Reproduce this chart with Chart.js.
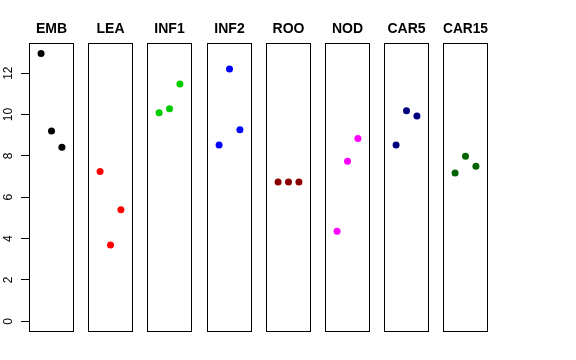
<!DOCTYPE html>
<html>
<head>
<meta charset="utf-8">
<script src="https://cdn.jsdelivr.net/npm/chart.js@4"></script>
<style>
  html, body { margin: 0; padding: 0; background: #fff; }
  #wrap { position: relative; width: 576px; height: 360px; }
  #wrap canvas { position: absolute; top: 0; }
</style>
</head>
<body>
<div id="wrap"></div>
<script>
/* data */
const panels = ['EMB', 'LEA', 'INF1', 'INF2', 'ROO', 'NOD', 'CAR5', 'CAR15'];
const xPos = [1, 2, 3];
const emb   = [12.95, 9.20, 8.42];
const lea   = [7.24, 3.69, 5.39];
const inf1  = [10.09, 10.28, 11.48];
const inf2  = [8.53, 12.20, 9.27];
const roo   = [6.74, 6.74, 6.74];
const nod   = [4.35, 7.74, 8.84];
const car5  = [8.53, 10.18, 9.93];
const car15 = [7.17, 7.98, 7.50];
const series = [emb, lea, inf1, inf2, roo, nod, car5, car15];
const yTicks = [0, 2, 4, 6, 8, 10, 12];

const colors = ['#000000', '#ff0000', '#00cd00', '#0000ff', '#8b0000', '#ff00ff', '#000080', '#006400'];

Chart.defaults.font.family = '"Liberation Sans", Arial, Helvetica, sans-serif';
Chart.defaults.color = '#000';

/* draws the frame round each panel */
const boxPlugin = {
    id: 'box',
    afterDraw(chart) {
        const { ctx, chartArea: a } = chart;
        ctx.save();
        ctx.strokeStyle = '#000';
        ctx.lineWidth = 1;
        ctx.strokeRect(Math.round(a.left) + 0.5, Math.round(a.top) + 0.5,
            Math.round(a.right - a.left) - 1, Math.round(a.bottom - a.top) - 1);
        ctx.restore();
    }
};

const wrap = document.getElementById('wrap');
const axisW = 29, panelW = 45, step = 59.2;

panels.forEach((name, i) => {
    const first = i === 0;
    const cv = document.createElement('canvas');
    const left = Math.round(axisW + i * step);
    cv.width = first ? axisW + panelW : panelW;
    cv.height = 332;
    cv.style.left = (first ? 0 : left) + 'px';
    wrap.appendChild(cv);

    new Chart(cv, {
        type: 'scatter',
        data: {
            datasets: [{
                data: xPos.map((x, k) => ({ x, y: series[i][k] })),
                backgroundColor: colors[i],
                borderWidth: 0,
                pointRadius: 3.5,
            }],
        },
        options: {
            responsive: false,
            animation: false,
            layout: { padding: 0, autoPadding: false },
            plugins: {
                legend: { display: false },
                tooltip: { enabled: false },
                title: {
                    display: true,
                    fullSize: false,   // centre over the panel, not the axis
                    text: name,
                    color: '#000',
                    font: { size: 14, weight: 'bold' },
                    padding: { top: 21, bottom: 5 },
                },
            },
            scales: {
                x: { type: 'linear', min: -0.16, max: 4.16, display: false },
                y: {
                    min: -0.518,
                    max: 13.47,
                    display: first,
                    afterBuildTicks: s => { s.ticks = yTicks.map(v => ({ value: v })); },
                    afterFit: s => {
                        if (!first) return;
                        s.width = axisW;
                        s.paddingTop = 0;
                        s.paddingBottom = 0;
                    },
                    border: { display: false },
                    grid: { drawOnChartArea: false, tickLength: 8, color: '#000' },
                    ticks: {
                        font: { size: 12 },
                        color: '#000',
                        minRotation: 90,
                        maxRotation: 90,
                        crossAlign: 'center',
                        padding: 6,
                    },
                },
            },
        },
        plugins: [boxPlugin],
    });
});
</script>
</body>
</html>
